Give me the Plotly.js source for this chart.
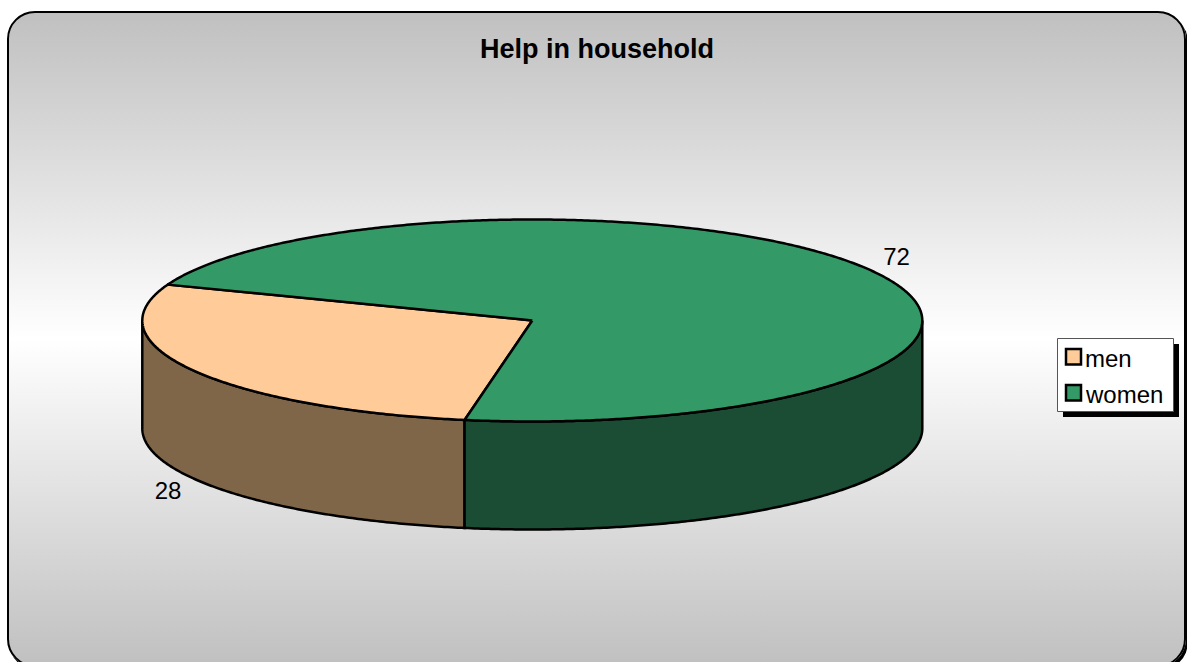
<!DOCTYPE html>
<html><head><meta charset="utf-8">
<script src="https://cdn.plot.ly/plotly-3.0.1.min.js"></script>
<style>
html,body{margin:0;padding:0;background:#fff;overflow:hidden;width:1187px;height:662px}
#card{position:absolute;left:6.5px;top:11px;width:1175px;height:651.5px;border:2.5px solid #000;border-radius:28px;
background:linear-gradient(to bottom,#c0c0c0 0%,#ffffff 50%,#c0c0c0 100%);box-shadow:2px 3px 0 #000}
#chart{position:absolute;left:0;top:0;width:1187px;height:662px}
</style></head><body>
<div id="card"></div><div id="chart"></div>
<script>
const categories = ['men','women'];
const values = [28,72];
const topColors = ['#FFCC99','#339966'];
const sideColors = ['#806648','#1A4D33'];
const chartTitle = 'Help in household';

const cx=532.3, cy=320.5, rx=390, ry=101, depth=108, firstAngle=190;
const total = values.reduce((a,b)=>a+b,0);
const pt=(deg,dy)=>{const r=(deg-90)*Math.PI/180;return [cx+rx*Math.cos(r),cy+ry*Math.sin(r)+(dy||0)];};
function arc(a,b,dy){const n=Math.max(2,Math.ceil(Math.abs(b-a)/0.5));const o=[];for(let i=0;i<=n;i++)o.push(pt(a+(b-a)*i/n,dy));return o;}
function poly(points,fill,name){return {type:'scatter',mode:'lines',x:points.map(p=>p[0]),y:points.map(p=>p[1]),fill:'toself',fillcolor:fill,
  line:{color:'#000',width:2.5,simplify:false},name:name,hoverinfo:'name',showlegend:false};}

const traces=[], tops=[], labels=[];
let a=firstAngle;
values.forEach((v,i)=>{
  const b=a+v/total*360;
  const lo=Math.max(a,90), hi=Math.min(b,270);
  const lo2=Math.max(a,450), hi2=Math.min(b,630);
  [[lo,hi],[lo2,hi2]].forEach(([s,e])=>{
    if(e>s){traces.push(poly(arc(s,e,0).concat(arc(e,s,depth)).concat([pt(s,0)]),sideColors[i],categories[i]));}
  });
  tops.push(poly([[cx,cy]].concat(arc(a,b,0)).concat([[cx,cy]]),topColors[i],categories[i]));
  const mid=(a+b)/2, m=pt(mid,0), front=Math.sin((mid-90)*Math.PI/180)>0;
  labels.push({x:cx+(m[0]-cx)*1.074,y:m[1]+(front?depth+14.5:-12),t:String(v)});
  a=b;
});
traces.push(...tops);
traces.push({type:'scatter',mode:'text',x:labels.map(l=>l.x),y:labels.map(l=>l.y),text:labels.map(l=>l.t),
  textposition:'middle center',textfont:{family:'Liberation Sans, Arial, sans-serif',size:24,color:'#000'},hoverinfo:'skip',showlegend:false});

const shapes=[
 {type:'rect',x0:1063,x1:1179,y0:344,y1:417,fillcolor:'#000',line:{width:0}},
 {type:'rect',x0:1057.5,x1:1173.5,y0:338.5,y1:411.5,fillcolor:'#fff',line:{color:'#555',width:1}}
];
const annotations=[
 {x:597,y:49,text:'<b>'+chartTitle+'</b>',showarrow:false,font:{family:'Liberation Sans, Arial, sans-serif',size:27,color:'#000'},xanchor:'center',yanchor:'middle'}
];
const legendY=[357,393];
categories.forEach((c,i)=>{
  shapes.push({type:'rect',x0:1066,x1:1081,y0:legendY[i]-8,y1:legendY[i]+7.5,fillcolor:topColors[i],line:{color:'#000',width:2.5}});
  annotations.push({x:1086,y:legendY[i]+1,text:c,showarrow:false,xanchor:'left',yanchor:'middle',xshift:-3,
    font:{family:'Liberation Sans, Arial, sans-serif',size:24,color:'#000'}});
});
const axis={visible:false,showgrid:false,zeroline:false,fixedrange:true};
Plotly.newPlot('chart',traces,{
  width:1187,height:662,margin:{l:0,r:0,t:0,b:0},
  paper_bgcolor:'rgba(0,0,0,0)',plot_bgcolor:'rgba(0,0,0,0)',showlegend:false,
  xaxis:Object.assign({range:[0,1187]},axis),
  yaxis:Object.assign({range:[662,0]},axis),
  shapes,annotations
},{displayModeBar:false});
</script></body></html>
